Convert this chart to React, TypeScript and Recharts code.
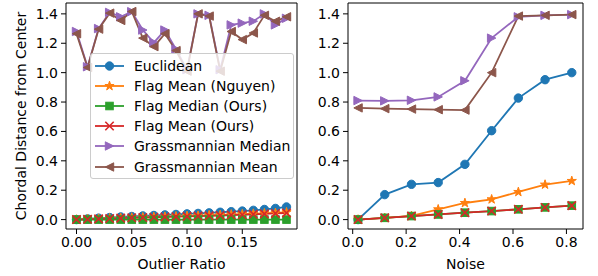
import React from 'react';
import { LineChart, Line, XAxis, YAxis, ReferenceLine } from 'recharts';

// ---------- data ----------
const outlierRatio = [0, 0.01, 0.02, 0.03, 0.04, 0.05, 0.06, 0.07, 0.08, 0.09, 0.1, 0.11, 0.12, 0.13, 0.14, 0.15, 0.16, 0.17, 0.18, 0.19];
const leftEuclidean = [0, 0.005, 0.01, 0.014, 0.018, 0.021, 0.025, 0.028, 0.032, 0.035, 0.039, 0.042, 0.046, 0.05, 0.054, 0.058, 0.063, 0.069, 0.076, 0.086];
const leftNguyen = [0, 0.003, 0.006, 0.009, 0.012, 0.014, 0.016, 0.018, 0.02, 0.022, 0.025, 0.027, 0.03, 0.032, 0.035, 0.037, 0.04, 0.043, 0.046, 0.05];
const leftFlagMedian = [0, 0, 0, 0, 0, 0, 0, 0, 0, 0, 0, 0, 0, 0, 0, 0, 0, 0, 0, 0];
const leftFlagMean = [0, 0.002, 0.005, 0.007, 0.01, 0.012, 0.014, 0.016, 0.018, 0.02, 0.022, 0.024, 0.026, 0.028, 0.031, 0.033, 0.036, 0.039, 0.042, 0.045];
const leftGrMedian = [1.28, 1.04, 1.3, 1.41, 1.38, 1.415, 1.29, 1.205, 1.29, 1.16, 1.02, 1.4, 1.39, 1.02, 1.325, 1.337, 1.35, 1.4, 1.325, 1.37];
const leftGrMean = [1.265, 1.035, 1.296, 1.405, 1.355, 1.416, 1.235, 1.177, 1.265, 1.15, 1.01, 1.4, 1.385, 1.01, 1.28, 1.225, 1.27, 1.39, 1.35, 1.38];

const noise = [0.02, 0.12, 0.22, 0.32, 0.42, 0.52, 0.62, 0.72, 0.82];
const rightEuclidean = [0, 0.17, 0.24, 0.252, 0.376, 0.605, 0.827, 0.952, 1.0];
const rightNguyen = [0, 0.012, 0.025, 0.07, 0.113, 0.138, 0.188, 0.238, 0.263];
const rightFlagMedian = [0, 0.012, 0.024, 0.035, 0.047, 0.058, 0.07, 0.083, 0.095];
const rightFlagMean = [0, 0.012, 0.024, 0.035, 0.047, 0.058, 0.07, 0.083, 0.095];
const rightGrMedian = [0.81, 0.808, 0.812, 0.835, 0.945, 1.235, 1.38, 1.39, 1.395];
const rightGrMean = [0.76, 0.755, 0.752, 0.748, 0.745, 1.0, 1.385, 1.39, 1.395];

const yTicks = [0, 0.2, 0.4, 0.6, 0.8, 1.0, 1.2, 1.4];
const leftXTicks = [0, 0.05, 0.1, 0.15];
const rightXTicks = [0, 0.2, 0.4, 0.6, 0.8];

const seriesNames = ['Euclidean', 'Flag Mean (Nguyen)', 'Flag Median (Ours)', 'Flag Mean (Ours)', 'Grassmannian Median', 'Grassmannian Mean'];
const seriesKeys = ['euc', 'ngu', 'fmed', 'fmean', 'gmed', 'gmean'];
const seriesColors = ['#1f77b4', '#ff7f0e', '#2ca02c', '#d62728', '#9467bd', '#8c564b'];
const seriesMarkers = ['circle', 'star', 'square', 'x', 'triRight', 'triLeft'];

const leftData = outlierRatio.map((x, i) => ({
  x,
  euc: leftEuclidean[i],
  ngu: leftNguyen[i],
  fmed: leftFlagMedian[i],
  fmean: leftFlagMean[i],
  gmed: leftGrMedian[i],
  gmean: leftGrMean[i],
}));

const rightData = noise.map((x, i) => ({
  x,
  euc: rightEuclidean[i],
  ngu: rightNguyen[i],
  fmed: rightFlagMedian[i],
  fmean: rightFlagMean[i],
  gmed: rightGrMedian[i],
  gmean: rightGrMean[i],
}));

// ---------- styling ----------
const FONT = 'DejaVu Sans, Liberation Sans, sans-serif';
const FS = 14;
const R = 4.2;
const Y_DOMAIN: [number, number] = [-0.064, 1.474];

function starPath(cx: number, cy: number, r: number) {
  const inner = r * 0.381966;
  const pts: string[] = [];
  for (let k = 0; k < 10; k++) {
    const rad = k % 2 === 0 ? r : inner;
    const a = -Math.PI / 2 + (k * Math.PI) / 5;
    pts.push(`${cx + rad * Math.cos(a)},${cy + rad * Math.sin(a)}`);
  }
  return pts.join(' ');
}

function MarkerShape({ kind, cx, cy, color }: { kind: string; cx: number; cy: number; color: string }) {
  switch (kind) {
    case 'circle':
      return <circle cx={cx} cy={cy} r={R} fill={color} stroke={color} strokeWidth={1} />;
    case 'square':
      return <rect x={cx - R * 0.9} y={cy - R * 0.9} width={R * 1.8} height={R * 1.8} fill={color} stroke={color} strokeWidth={1} />;
    case 'x':
      return (
        <path
          d={`M${cx - R},${cy - R}L${cx + R},${cy + R}M${cx - R},${cy + R}L${cx + R},${cy - R}`}
          stroke={color}
          strokeWidth={1.6}
          fill="none"
        />
      );
    case 'star':
      return <polygon points={starPath(cx, cy, R * 1.15)} fill={color} stroke={color} strokeWidth={1} />;
    case 'triRight':
      return <polygon points={`${cx + R},${cy} ${cx - R},${cy - R} ${cx - R},${cy + R}`} fill={color} stroke={color} strokeWidth={1} />;
    case 'triLeft':
      return <polygon points={`${cx - R},${cy} ${cx + R},${cy - R} ${cx + R},${cy + R}`} fill={color} stroke={color} strokeWidth={1} />;
    default:
      return null;
  }
}

function makeDot(kind: string, color: string) {
  return (props: any) => {
    const { cx, cy, index } = props;
    if (cx == null || cy == null) return <g key={`d-${index}`} />;
    return (
      <g key={`d-${kind}-${index}`}>
        <MarkerShape kind={kind} cx={cx} cy={cy} color={color} />
      </g>
    );
  };
}

const tickStyle = { fill: '#000', fontSize: FS, fontFamily: FONT };

function YTitle(props: any) {
  const vb = props.viewBox || { x: 0, y: 3, width: 66, height: 226 };
  const x = vb.x + 21;
  const y = vb.y + vb.height / 2;
  return (
    <text
      x={x}
      y={y}
      transform={`rotate(-90 ${x} ${y})`}
      textAnchor="middle"
      dominantBaseline="central"
      fill="#000"
      fontSize={FS}
      fontFamily={FONT}
    >
      Chordal Distance from Center
    </text>
  );
}

function XTitle(text: string) {
  return (props: any) => {
    const vb = props.viewBox || { x: 0, y: 229, width: 231, height: 47 };
    const x = vb.x + vb.width / 2;
    const y = vb.y + 34.5;
    return (
      <text x={x} y={y} textAnchor="middle" dominantBaseline="central" fill="#000" fontSize={FS} fontFamily={FONT}>
        {text}
      </text>
    );
  };
}

function Panel({
  data,
  xDomain,
  xTicks,
  xDigits,
  xTitle,
  yAxisWidth,
  marginRight,
  showYTitle,
}: {
  data: any[];
  xDomain: [number, number];
  xTicks: number[];
  xDigits: number;
  xTitle: string;
  yAxisWidth: number;
  marginRight: number;
  showYTitle: boolean;
}) {
  return (
    <LineChart width={300} height={276} data={data} margin={{ top: 3, right: marginRight, bottom: 0, left: 0 }}>
      <XAxis
        dataKey="x"
        type="number"
        domain={xDomain}
        allowDataOverflow
        ticks={xTicks}
        tickFormatter={(v: number) => v.toFixed(xDigits)}
        tick={tickStyle}
        tickSize={5}
        tickMargin={3}
        tickLine={{ stroke: '#000', strokeWidth: 1 }}
        axisLine={{ stroke: '#000', strokeWidth: 1 }}
        height={47}
        interval={0}
        label={{ content: XTitle(xTitle) }}
      />
      <YAxis
        type="number"
        domain={Y_DOMAIN}
        allowDataOverflow
        ticks={yTicks}
        tickFormatter={(v: number) => v.toFixed(1)}
        tick={tickStyle}
        tickSize={5}
        tickMargin={3}
        tickLine={{ stroke: '#000', strokeWidth: 1 }}
        axisLine={{ stroke: '#000', strokeWidth: 1 }}
        width={yAxisWidth}
        interval={0}
        label={showYTitle ? { content: YTitle } : undefined}
      />
      {seriesKeys.map((k, i) => (
        <Line
          key={k}
          dataKey={k}
          stroke={seriesColors[i]}
          strokeWidth={1.8}
          dot={makeDot(seriesMarkers[i], seriesColors[i])}
          activeDot={false}
          isAnimationActive={false}
          type="linear"
        />
      ))}
      {/* frame: top and right spines at the domain edges */}
      <ReferenceLine y={Y_DOMAIN[1]} stroke="#000" strokeWidth={1} ifOverflow="visible" />
      <ReferenceLine x={xDomain[1]} stroke="#000" strokeWidth={1} ifOverflow="visible" />
    </LineChart>
  );
}

function LegendBox() {
  return (
    <div
      style={{
        position: 'absolute',
        left: 90,
        top: 53,
        width: 202,
        height: 124,
        border: '1px solid #cccccc',
        borderRadius: 3,
        background: 'rgba(255,255,255,0.8)',
        fontFamily: FONT,
        fontSize: FS,
        color: '#000',
      }}
    >
      {seriesNames.map((name, i) => (
        <div
          key={name}
          style={{ position: 'absolute', left: 0, top: 1.5 + i * 20.2, height: 20.2, width: 200, display: 'flex', alignItems: 'center' }}
        >
          <svg width={40} height={20} style={{ flex: 'none' }}>
            <line x1={4} y1={10} x2={33} y2={10} stroke={seriesColors[i]} strokeWidth={1.8} />
            <MarkerShape kind={seriesMarkers[i]} cx={18.5} cy={10} color={seriesColors[i]} />
          </svg>
          <span style={{ marginLeft: 3, whiteSpace: 'nowrap', lineHeight: '20px' }}>{name}</span>
        </div>
      ))}
    </div>
  );
}

export default function App() {
  return (
    <div style={{ position: 'absolute', left: 0, top: 0, width: 598, height: 276, background: '#fff' }}>
      <div style={{ position: 'absolute', left: 0, top: 0, width: 300, height: 276 }}>
        <Panel
          data={leftData}
          xDomain={[-0.0095, 0.1995]}
          xTicks={leftXTicks}
          xDigits={2}
          xTitle="Outlier Ratio"
          yAxisWidth={66}
          marginRight={3}
          showYTitle
        />
        <LegendBox />
      </div>
      <div style={{ position: 'absolute', left: 298, top: 0, width: 300, height: 276 }}>
        <Panel
          data={rightData}
          xDomain={[-0.0176, 0.862]}
          xTicks={rightXTicks}
          xDigits={1}
          xTitle="Noise"
          yAxisWidth={50}
          marginRight={15}
          showYTitle={false}
        />
      </div>
    </div>
  );
}
